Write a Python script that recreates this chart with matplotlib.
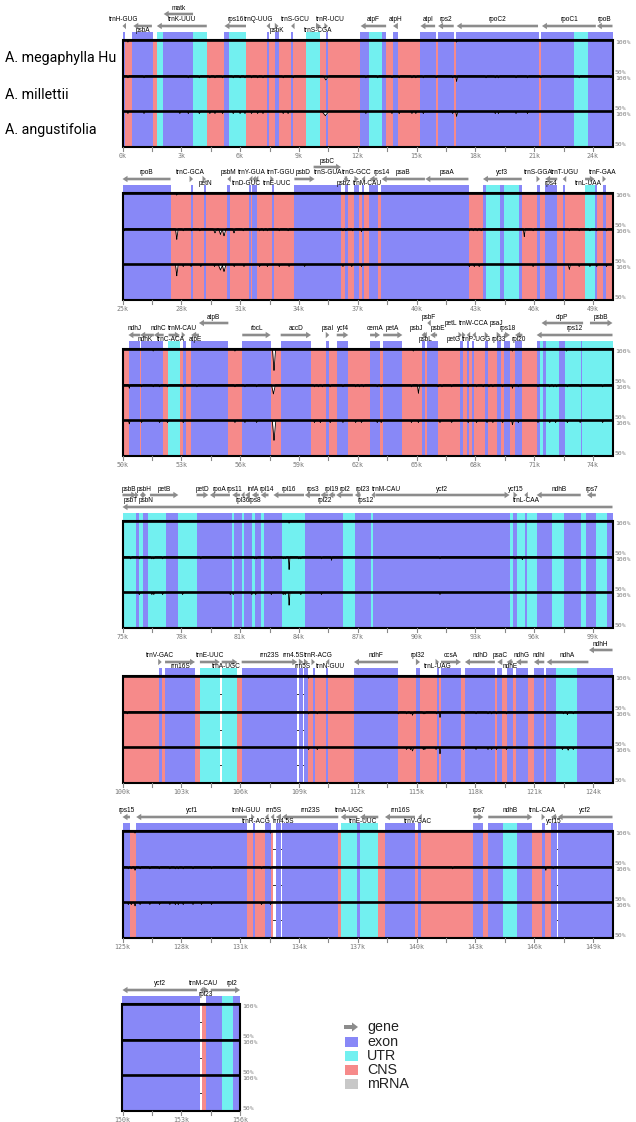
import matplotlib
matplotlib.use("Agg")
import matplotlib.pyplot as plt
import numpy as np
from matplotlib.patches import Rectangle, Polygon

# ---------------- data ----------------
species = ["A. megaphylla Hu", "A. millettii", "A. angustifolia"]
panel_starts = [0, 25, 50, 75, 100, 125, 150]      # kb
panel_ends = [25, 50, 75, 100, 125, 150, 156]

exon_regions = [
    (0.0, 0.13), (0.5, 1.54), (2.08, 3.58), (5.18, 5.45), (7.35, 7.45), (7.77, 7.96), (8.6, 8.72),
    (10.39, 10.49), (12.12, 12.56), (13.24, 13.45), (13.79, 14.06), (15.18, 15.97), (16.11, 16.89),
    (17.03, 21.23), (21.37, 23.02), (23.75, 25.0),
    (25.0, 27.47), (28.48, 28.6), (29.16, 29.26), (30.35, 30.47), (31.45, 31.54), (31.62, 31.84),
    (32.61, 32.73), (33.75, 36.15), (36.37, 36.5), (36.83, 37.05), (37.22, 37.32), (37.6, 38.05),
    (38.2, 42.68), (43.38, 43.55), (44.26, 44.48), (45.23, 45.4), (46.13, 46.3), (46.56, 47.18),
    (47.46, 47.58), (49.1, 49.19), (49.5, 49.67),
    (50.35, 50.89), (50.95, 52.08), (53.07, 53.24), (53.49, 55.4), (56.11, 57.56), (58.07, 59.62),
    (60.37, 60.55), (60.93, 61.52), (62.63, 63.14), (63.3, 64.28), (65.26, 65.43), (65.55, 66.08),
    (67.22, 67.39), (67.56, 67.68), (67.85, 67.93), (68.5, 68.66), (69.09, 69.3), (69.46, 69.77),
    (70.03, 70.4), (71.13, 71.3), (71.44, 71.61), (72.29, 72.58), (73.38, 73.45),
    (75.69, 75.86), (76.06, 76.32), (77.22, 77.85), (78.78, 80.57), (80.69, 81.08), (81.2, 81.59),
    (81.76, 82.07), (82.2, 83.12), (84.31, 86.23), (86.86, 87.66), (87.76, 94.77), (94.9, 95.11),
    (95.54, 95.62), (96.13, 96.9), (97.53, 98.38), (98.65, 99.16), (99.7, 100.0),
    (101.88, 102.0), (102.17, 103.7), (106.08, 108.92), (109.0, 109.23), (109.26, 109.48),
    (109.7, 109.82), (110.37, 110.47), (111.81, 114.07), (114.97, 115.18), (116.03, 116.15),
    (116.25, 117.27), (117.47, 119.0), (119.12, 119.38), (119.6, 119.91), (120.08, 120.67),
    (120.99, 121.52), (121.6, 122.12), (123.2, 125.0),
    (125.0, 125.38), (125.69, 131.37), (131.64, 131.74), (132.27, 132.56), (132.83, 133.09),
    (133.13, 136.01), (136.98, 137.12), (138.39, 139.92), (140.09, 140.21), (142.9, 143.41),
    (143.66, 144.43), (145.11, 145.91), (146.39, 146.56), (146.86, 147.15), (147.2, 150.0),
    (150.0, 153.95), (154.25, 155.08), (155.64, 156.0),
]

utr_regions = [
    (1.74, 2.08), (3.58, 4.33), (5.45, 6.3), (9.37, 10.08), (12.56, 13.24), (23.02, 23.75),
    (43.55, 44.26), (44.48, 45.23), (48.6, 49.1),
    (52.34, 52.93), (71.3, 71.44), (71.61, 72.29), (72.58, 73.38), (73.45, 75.0),
    (75.0, 75.69), (75.86, 76.06), (76.32, 77.22), (77.85, 78.78), (80.57, 80.69), (81.08, 81.2),
    (81.59, 81.76), (82.07, 82.2), (83.12, 84.31), (86.23, 86.86), (87.66, 87.76), (94.77, 94.9),
    (95.11, 95.54), (95.62, 96.13), (96.9, 97.53), (98.38, 98.65), (99.16, 99.7),
    (103.95, 104.97), (105.06, 105.86), (122.12, 123.2),
    (136.13, 136.98), (137.12, 138.05), (144.43, 145.11),
    (155.08, 155.64),
]

cns_regions = [
    (0.13, 0.5), (1.54, 1.74), (4.33, 5.18), (6.3, 7.35), (7.45, 7.77), (7.96, 8.6), (8.72, 9.37),
    (10.08, 10.39), (10.49, 12.12), (13.45, 13.79), (14.06, 15.18), (15.97, 16.11), (16.89, 17.03),
    (21.23, 21.37),
    (27.47, 28.48), (28.6, 29.16), (29.26, 30.35), (30.47, 31.45), (31.54, 31.62), (31.84, 32.61),
    (32.73, 33.75), (36.15, 36.37), (36.5, 36.83), (37.05, 37.22), (37.32, 37.6), (38.05, 38.2),
    (42.68, 43.38), (45.4, 46.13), (46.3, 46.56), (47.18, 47.46), (47.58, 48.6), (49.19, 49.5),
    (49.67, 50.0),
    (50.0, 50.35), (50.89, 50.95), (52.08, 52.34), (52.93, 53.07), (53.24, 53.49), (55.4, 56.11),
    (57.56, 58.07), (59.62, 60.37), (60.55, 60.93), (61.52, 62.63), (63.14, 63.3), (64.28, 65.26),
    (65.43, 65.55), (66.08, 67.22), (67.39, 67.56), (67.68, 67.85), (67.93, 68.5), (68.66, 69.09),
    (69.3, 69.46), (69.77, 70.03), (70.4, 71.13),
    (100.0, 101.88), (102.0, 102.17), (103.7, 103.95), (105.86, 106.08), (109.48, 109.7),
    (109.82, 110.37), (110.47, 111.81), (114.07, 114.97), (115.18, 116.03), (116.15, 116.25),
    (117.27, 117.47), (119.0, 119.12), (119.38, 119.6), (119.91, 120.08), (120.67, 120.99),
    (121.52, 121.6),
    (125.38, 125.69), (131.37, 131.64), (131.74, 132.27), (132.56, 132.7), (136.01, 136.13),
    (138.05, 138.39), (139.92, 140.09), (140.21, 142.9), (143.41, 143.66), (145.91, 146.39),
    (146.56, 146.86),
    (154.05, 154.25),
]

# genes: (name, start kb, end kb, strand)
genes = [
    # 0-25k
    ("trnH-GUG", 0.0, 0.1, -1), ("psbA", 0.55, 1.5, -1), ("matk", 2.1, 3.6, -1),
    ("trnK-UUU", 1.75, 4.3, -1), ("rps16", 5.2, 6.3, -1), ("trnQ-UUG", 7.35, 7.45, -1),
    ("psbK", 7.77, 7.96, 1), ("trnS-GCU", 8.6, 8.7, -1), ("trnR-UCU", 9.87, 10.13, 1),
    ("trnS-CGA", 10.38, 10.48, 1), ("atpF", 12.15, 13.45, -1), ("atpH", 13.8, 14.05, -1),
    ("atpI", 15.2, 15.95, -1), ("rps2", 16.1, 16.9, -1), ("rpoC2", 17.05, 21.2, -1),
    ("rpoC1", 21.4, 24.15, -1), ("rpoB", 24.2, 27.45, -1),
    # 25-50k
    ("trnC-GCA", 28.5, 28.6, 1), ("petN", 29.16, 29.26, 1), ("psbM", 30.35, 30.45, -1),
    ("trnD-GUC", 31.45, 31.55, -1), ("trnY-GUA", 31.62, 31.72, -1), ("trnE-UUC", 31.75, 31.84, -1),
    ("trnT-GGU", 32.61, 32.72, 1), ("psbD", 33.77, 34.8, 1), ("psbC", 34.75, 36.15, 1),
    ("trnS-GUA", 36.28, 36.38, -1), ("psbZ", 36.4, 36.52, 1), ("trnG-GCC", 36.83, 37.05, 1),
    ("trnM-CAU", 37.2, 37.3, -1), ("rps14", 37.6, 38.0, -1), ("psaB", 38.22, 40.43, -1),
    ("psaA", 40.45, 42.65, -1), ("ycf3", 43.39, 45.37, -1), ("trnS-GGA", 46.13, 46.3, 1),
    ("rps4", 46.56, 47.18, -1), ("trnT-UGU", 47.46, 47.58, -1), ("trnL-UAA", 48.6, 49.1, 1),
    ("trnF-GAA", 49.5, 49.67, 1),
    # 50-75k
    ("ndhJ", 50.3, 50.9, -1), ("ndhK", 50.9, 51.6, -1), ("ndhC", 51.6, 52.1, -1),
    ("trnC-ACA", 52.35, 52.93, 1), ("trnM-CAU", 53.07, 53.2, 1), ("atpE", 53.5, 53.9, -1),
    ("atpB", 53.9, 55.4, -1), ("rbcL", 56.11, 57.56, 1), ("accD", 58.07, 59.62, 1),
    ("psaI", 60.37, 60.55, 1), ("ycf4", 60.93, 61.52, 1), ("cemA", 62.63, 63.14, 1),
    ("petA", 63.3, 64.28, 1), ("psbJ", 65.26, 65.35, -1), ("psbL", 65.35, 65.43, -1),
    ("psbF", 65.55, 65.65, -1), ("psbE", 65.7, 66.05, -1), ("petL", 67.22, 67.32, 1),
    ("petG", 67.39, 67.5, 1), ("trnW-CCA", 67.56, 67.68, -1), ("trnP-UGG", 67.85, 67.95, -1),
    ("psaJ", 68.5, 68.66, 1), ("rpl33", 69.09, 69.3, 1), ("rps18", 69.46, 69.77, 1),
    ("rpl20", 70.03, 70.4, -1), ("clpP", 71.38, 73.5, -1), ("rps12", 71.13, 75.0, -1),
    ("psbB", 73.85, 75.7, 1),
    # 75-100k
    ("psbT", 75.7, 75.82, 1), ("psbN", 75.88, 75.98, -1), ("psbH", 76.02, 76.2, 1),
    ("petB", 76.4, 77.85, 1), ("petD", 78.78, 79.38, 1), ("rpoA", 79.46, 80.48, -1),
    ("rps11", 80.6, 81.0, -1), ("rpl36", 81.05, 81.2, -1), ("infA", 81.25, 81.5, -1),
    ("rps8", 81.6, 81.95, -1), ("rpl14", 82.05, 82.45, -1), ("rpl16", 82.7, 84.26, -1),
    ("rps3", 84.3, 85.08, -1), ("rpl22", 85.1, 85.5, -1), ("rpl19", 85.5, 85.85, -1),
    ("rpl2", 85.9, 86.75, -1), ("rpl23", 86.85, 87.15, -1), ("trnM-CAU", 87.7, 87.85, -1),
    ("ycf2", 87.9, 94.75, 1), ("ycf15", 94.95, 95.15, 1), ("trnL-CAA", 95.5, 95.6, -1),
    ("ndhB", 96.13, 98.38, -1), ("rps7", 98.7, 99.15, -1), ("rps12", 75.0, 100.0, -1),
    # 100-125k
    ("trnV-GAC", 101.88, 102.0, 1), ("rrn16S", 102.17, 103.7, 1), ("trnE-UUC", 103.95, 104.97, 1),
    ("trnA-UGC", 105.06, 105.86, 1), ("rrn23S", 106.08, 108.92, 1), ("rrn4.5S", 109.0, 109.23, 1),
    ("rrn5S", 109.26, 109.48, 1), ("trnR-ACG", 109.7, 109.82, 1), ("trnN-GUU", 110.37, 110.47, -1),
    ("ndhF", 111.81, 114.06, -1), ("rpl32", 114.97, 115.18, 1), ("trnL-UAG", 116.03, 116.15, 1),
    ("ccsA", 116.25, 117.27, 1), ("ndhD", 117.47, 119.0, -1), ("psaC", 119.12, 119.38, -1),
    ("ndhE", 119.6, 119.91, -1), ("ndhG", 120.08, 120.67, -1), ("ndhI", 120.99, 121.52, -1),
    ("ndhA", 121.64, 123.77, -1), ("ndhH", 123.8, 125.0, -1),
    # 125-150k
    ("rps15", 125.0, 125.38, -1), ("ycf1", 125.7, 131.35, -1), ("trnN-GUU", 131.64, 131.74, 1),
    ("trnR-ACG", 132.27, 132.37, -1), ("rrn5S", 132.56, 132.7, -1), ("rrn4.5S", 132.83, 133.09, -1),
    ("rrn23S", 133.13, 136.01, -1), ("trnA-UGC", 136.13, 136.98, -1), ("trnE-UUC", 137.12, 138.05, -1),
    ("rrn16S", 138.39, 139.92, -1), ("trnV-GAC", 140.09, 140.21, -1), ("rps7", 142.9, 143.41, 1),
    ("ndhB", 143.66, 145.91, 1), ("trnL-CAA", 146.39, 146.56, 1), ("ycf15", 146.86, 147.15, -1),
    ("ycf2", 147.2, 150.0, -1),
    # 150-156k
    ("ycf2", 150.0, 153.8, -1), ("trnM-CAU", 153.95, 154.05, -1), ("rpl23", 154.1, 154.4, 1),
    ("rpl2", 154.5, 156.0, 1),
]

# identity dips per species: small marks (positions, kb) and larger dips (centre kb, depth %, half-width kb)
megaphylla_dots = [0.28, 17.05, 27.77, 51.57, 55.74, 64.84, 69.9, 72.66, 83.5, 109.5, 125.64, 132.56]
megaphylla_dips = [(57.73, 30, 0.08)]

millettii_dots = [
    0.28, 1.1, 3.36, 3.92, 4.46, 4.72, 5.11, 5.65, 6.0, 6.25, 6.59, 6.9, 7.17, 8.2, 8.71, 12.42,
    13.02, 13.75, 14.12, 14.77, 14.97, 15.35, 16.0, 16.85, 18.55, 19.02, 19.19, 20.08, 20.67, 21.35,
    23.3, 24.92, 25.1, 28.1, 28.53, 28.95, 31.16, 32.0, 32.2, 32.4, 33.0, 33.45, 36.25, 36.4, 36.75,
    42.7, 42.9, 43.1, 43.3, 45.95, 47.8, 48.3, 48.85, 49.2, 49.7, 50.98, 51.57, 51.9, 52.3, 53.1,
    53.8, 55.74, 56.25, 56.85, 59.8, 60.0, 60.2, 60.6, 61.25, 61.9, 62.1, 62.3, 63.0, 63.2, 64.75,
    66.1, 66.3, 66.8, 67.64, 68.07, 68.4, 68.7, 68.9, 69.4, 70.2, 71.2, 71.8, 72.0, 72.15, 72.7,
    73.35, 74.5, 75.42, 75.86, 76.5, 76.6, 77.05, 79.0, 80.65, 81.75, 81.85, 82.6, 83.2, 83.3, 84.0,
    84.1, 85.16, 91.2, 95.03, 100.25, 109.5, 109.94, 114.07, 114.5, 114.7, 115.35, 115.43, 116.03,
    117.44, 118.04, 118.65, 118.84, 119.09, 119.6, 122.5, 123.0, 125.3, 125.45, 125.9, 126.4,
    126.88, 127.42, 127.7, 127.85, 128.1, 128.6, 129.55, 132.1, 132.56, 141.85, 146.98,
]
millettii_dips = [
    (10.38, 6, 0.15), (17.05, 8, 0.06), (27.77, 15, 0.07), (29.72, 6, 0.1), (30.0, 8, 0.1),
    (30.18, 10, 0.1), (30.69, 6, 0.08), (37.2, 4, 0.05), (45.5, 11, 0.05), (50.35, 5, 0.05),
    (57.7, 13, 0.1), (65.1, 12, 0.06), (69.9, 5, 0.05), (83.5, 18, 0.04), (85.67, 5, 0.04),
    (95.4, 4, 0.04), (114.8, 5, 0.07), (116.2, 8, 0.04), (122.7, 4, 0.07), (125.64, 5, 0.05),
    (146.6, 5, 0.04),
]

angustifolia_dots = [
    0.28, 1.1, 2.93, 3.36, 3.92, 4.46, 4.72, 5.11, 5.65, 6.0, 6.25, 6.59, 6.9, 7.17, 8.2, 8.45,
    12.42, 13.75, 14.12, 14.77, 14.97, 15.35, 16.85, 19.02, 19.19, 20.08, 20.67, 28.1, 28.5, 29.0,
    29.7, 30.7, 31.2, 32.0, 32.4, 33.0, 33.5, 34.3, 36.25, 36.7, 37.2, 42.7, 42.95, 43.2, 45.95,
    48.3, 48.85, 49.2, 49.7, 50.98, 51.9, 52.3, 53.1, 55.74, 56.25, 56.85, 59.8, 60.1, 60.6, 61.25,
    61.9, 62.2, 63.0, 63.2, 64.75, 65.1, 66.2, 66.8, 67.64, 68.07, 68.6, 68.9, 69.4, 70.2, 71.2,
    71.8, 72.1, 72.7, 73.35, 74.5, 75.86, 76.5, 76.6, 77.05, 78.07, 80.5, 80.65, 81.6, 81.8, 82.6,
    83.2, 83.3, 84.1, 85.16, 91.2, 109.5, 109.94, 114.5, 114.7, 115.35, 115.43, 116.0, 117.4,
    118.04, 118.65, 118.84, 119.09, 119.6, 122.45, 123.0, 125.3, 125.45, 125.9, 126.4, 126.9,
    127.42, 127.7, 127.85, 128.1, 128.6, 129.04, 129.55, 132.1, 132.56,
]
angustifolia_dips = [
    (10.35, 6, 0.18), (17.05, 7, 0.06), (27.77, 16, 0.07), (30.0, 8, 0.12), (30.18, 10, 0.1),
    (47.8, 7, 0.06), (50.35, 5, 0.05), (57.73, 28, 0.09), (69.9, 6, 0.05), (83.5, 18, 0.04),
    (114.8, 5, 0.07), (116.2, 9, 0.04), (122.74, 4, 0.07), (125.64, 5, 0.05),
]

legend_labels = ["gene", "exon", "UTR", "CNS", "mRNA"]

# ---------------- layout / style ----------------
# label placement per gene (same order as `genes`):
# a: lower arrow row, label above; b: lower row, label below; u: lower row, raised label
# A: upper arrow row, label above; B: upper row, label below.  Second item: label shift (kb)
gene_layout = [
    # 0-25k (17)
    ("a", 0), ("b", 0), ("A", 0), ("a", 0), ("a", 0), ("a", -0.43), ("b", 0), ("a", 0.15),
    ("a", 0.6), ("b", -0.46), ("a", 0), ("a", 0), ("a", 0), ("a", 0), ("a", 0), ("a", 0), ("a", 0),
    # 25-50k (22)
    ("a", -0.1), ("b", 0), ("a", 0), ("b", -0.16), ("a", -0.07), ("b", 1.07), ("a", 0.45),
    ("a", -0.07), ("A", 0), ("a", -0.85), ("b", -0.15), ("a", 0.0), ("b", 0.25), ("a", 0.4),
    ("a", 0), ("a", 0), ("a", 0), ("a", 0), ("b", 0), ("a", 0.06), ("b", -0.08), ("a", -0.1),
    # 50-75k (28)
    ("a", 0), ("b", -0.1), ("a", 0), ("b", -0.15), ("a", -0.1), ("b", 0), ("A", 0), ("a", 0),
    ("a", 0), ("a", 0), ("a", 0), ("a", 0), ("a", 0), ("a", -0.3), ("b", 0.05), ("A", 0),
    ("a", 0.2), ("u", -0.5), ("b", -0.55), ("u", 0.3), ("b", 0.15), ("u", 0.5), ("b", 0),
    ("a", 0.05), ("b", 0), ("A", 0), ("a", 0), ("A", 0),
    # 75-100k (24)
    ("B", -0.35), ("B", 0.25), ("A", 0), ("A", 0), ("A", 0), ("A", -0.05), ("A", -0.1), ("B", 0),
    ("A", 0.3), ("B", 0), ("A", 0.12), ("A", 0), ("A", 0), ("B", 0), ("A", 0), ("A", 0),
    ("A", 0.25), ("A", 0.7), ("A", 0), ("A", 0), ("B", 0.05), ("A", 0), ("A", 0), ("a", -0.1),
    # 100-125k (20)
    ("a", -0.05), ("b", 0), ("a", 0), ("b", -0.15), ("a", 0), ("a", -0.4), ("b", -0.2),
    ("a", 0.25), ("b", 0.17), ("a", 0), ("a", 0), ("b", 0), ("a", 0), ("a", 0), ("a", 0),
    ("b", 0), ("a", 0), ("a", 0), ("a", 0), ("A", 0),
    # 125-150k (16)
    ("a", 0), ("a", 0), ("a", -0.35), ("b", -0.47), ("a", 0.07), ("b", 0.24), ("a", 0),
    ("a", 0), ("b", -0.3), ("a", 0), ("b", -0.1), ("a", 0), ("a", 0), ("a", -0.05), ("b", 0),
    ("a", 0),
    # 150-156k (4)
    ("a", 0), ("a", 0.15), ("b", 0), ("a", 0.35),
]
assert len(gene_layout) == len(genes)

EXON = "#8888f7"
UTR = "#72f0f0"
CNS = "#f68a8a"
MRNA = "#c8c8c8"
ARROW = "#8c8c8c"
TXT_GRAY = "#7a7a7a"

W, H = 636, 1122
X0 = 122.5
PX_PER_KB = 19.6
BOX_H = 107.0
STRIP = 8.0
panel_tops = [40, 193, 349, 521, 676, 831, 1004]
ROW0, ROW1 = 14.0, 26.0
LABEL_OFF = {"a": (ROW0, 20.5), "b": (ROW0, 9.5), "u": (ROW0, 26.0),
             "A": (ROW1, 32.0), "B": (ROW1, 21.0)}

fig = plt.figure(figsize=(W / 100, H / 100), dpi=100)

track_data = [
    (megaphylla_dots, megaphylla_dips),
    (millettii_dots, millettii_dips),
    (angustifolia_dots, angustifolia_dips),
]

for k, (ps, pe) in enumerate(zip(panel_starts, panel_ends)):
    top = panel_tops[k]
    wpx = (pe - ps) * PX_PER_KB
    ax = fig.add_axes([X0 / W, 1 - (top + BOX_H) / H, wpx / W, BOX_H / H])
    ax.set_xlim(ps, pe)
    ax.set_ylim(0, 3)
    ax.axis("off")
    xt = ax.get_xaxis_transform()
    strip_top = 1 + STRIP / BOX_H

    # 75% grid (visible only in gaps)
    ax.hlines([0.5, 1.5, 2.5], ps, pe, colors="#333333", lw=0.7, zorder=0.5)

    for regions, col, strip in [(cns_regions, CNS, False), (utr_regions, UTR, True),
                                (exon_regions, EXON, True)]:
        for s, e in regions:
            a, b = max(s, ps), min(e, pe)
            if b <= a:
                continue
            ax.add_patch(Rectangle((a, 0), b - a, strip_top if strip else 1, transform=xt,
                                   facecolor=col, edgecolor="none", lw=0, clip_on=False,
                                   zorder=1))

    xs = np.linspace(ps, pe, int((pe - ps) * 500) + 1)
    for i, (dots, dips) in enumerate(track_data):
        base = 2 - i
        ident = np.full_like(xs, 100.0)
        all_dips = [(c, 3.0, 0.06) for c in dots] + list(dips)
        for c, d, hw in all_dips:
            if c < ps - hw or c > pe + hw:
                continue
            tri = d * np.clip(1 - np.abs(xs - c) / hw, 0, None)
            ident = np.minimum(ident, 100 - tri)
        y = base + (np.clip(ident, 50, 100) - 50) / 50
        ax.fill_between(xs, y, base + 1, color="white", lw=0, zorder=2)
        ax.plot(xs, y, color="black", lw=0.6, zorder=3)
        ax.hlines(base + 1, ps, pe, colors="black", lw=1.9, zorder=4)

    ax.add_patch(Rectangle((ps, 0), pe - ps, 3, fill=False, edgecolor="black", lw=1.5,
                           zorder=5, clip_on=False))

# overlay in pixel coordinates
ov = fig.add_axes([0, 0, 1, 1])
ov.set_xlim(0, W)
ov.set_ylim(H, 0)
ov.axis("off")
ov.patch.set_alpha(0)


def arrow_poly(x1, x2, y, strand, shaft=1.3, head=3.2, hl_max=5.0):
    L = x2 - x1
    hl = min(hl_max, max(L, 3.5))
    if strand > 0:
        tip = x2
        hb = tip - hl
        if hb > x1:
            pts = [(x1, y - shaft), (hb, y - shaft), (hb, y - head), (tip, y),
                   (hb, y + head), (hb, y + shaft), (x1, y + shaft)]
        else:
            pts = [(hb, y - head), (tip, y), (hb, y + head)]
    else:
        tip = x1
        hb = tip + hl
        if hb < x2:
            pts = [(x2, y - shaft), (hb, y - shaft), (hb, y - head), (tip, y),
                   (hb, y + head), (hb, y + shaft), (x2, y + shaft)]
        else:
            pts = [(hb, y - head), (tip, y), (hb, y + head)]
    return Polygon(pts, closed=True, facecolor=ARROW, edgecolor="none", lw=0)


for k, (ps, pe) in enumerate(zip(panel_starts, panel_ends)):
    top = panel_tops[k]
    bottom = top + BOX_H
    xr = X0 + (pe - ps) * PX_PER_KB

    # gene arrows and labels
    for (name, s, e, strand), (code, dx) in zip(genes, gene_layout):
        a, b = max(s, ps), min(e, pe)
        if b <= a:
            continue
        row_off, lab_off = LABEL_OFF[code]
        x1 = X0 + (a - ps) * PX_PER_KB
        x2 = X0 + (b - ps) * PX_PER_KB
        ya = top - row_off
        ov.add_patch(arrow_poly(x1, x2, ya, strand))
        xl = (x1 + x2) / 2 + dx * PX_PER_KB
        ov.text(xl, top - lab_off, name, fontsize=4.7, family="Liberation Sans",
                ha="center", va="center", color="black")

    # percent labels
    pct = [("100%", top + 2.5)]
    for j in range(1, 3):
        sep = top + j * BOX_H / 3
        pct += [("50%", sep - 3), ("100%", sep + 3)]
    pct.append(("50%", bottom - 2.5))
    for t, yy in pct:
        ov.text(xr + 2.5, yy, t, fontsize=4.6, family="DejaVu Sans Mono", color=TXT_GRAY,
                ha="left", va="center")

    # x ticks
    t = ps
    n = 0
    while t <= pe + 1e-6:
        xp = X0 + (t - ps) * PX_PER_KB
        ov.plot([xp, xp], [bottom, bottom + 3.5], color="#888888", lw=0.8)
        if n % 2 == 0:
            ov.text(xp, bottom + 9, f"{t:g}k", fontsize=4.8, family="DejaVu Sans Mono",
                    color=TXT_GRAY, ha="center", va="center")
        t += 1.5
        n += 1

# species labels
for name, yy in zip(species, [57.5, 95, 130]):
    ov.text(5, yy, name, fontsize=10.3, family="Roboto", ha="left", va="center", color="black")

# legend
leg_y = [1027, 1041.5, 1055.5, 1069.5, 1083.5]
leg_cols = [None, EXON, UTR, CNS, MRNA]
for lab, yy, col in zip(legend_labels, leg_y, leg_cols):
    if col is None:
        ov.add_patch(arrow_poly(344, 358, yy, 1, shaft=2.0, head=4.5, hl_max=6))
    else:
        ov.add_patch(Rectangle((345, yy - 5), 13, 10, facecolor=col, edgecolor="none"))
    ov.text(367, yy, lab, fontsize=10.3, family="Liberation Sans", ha="left", va="center",
            color="#222222")

fig.savefig("out.png", dpi=100)
